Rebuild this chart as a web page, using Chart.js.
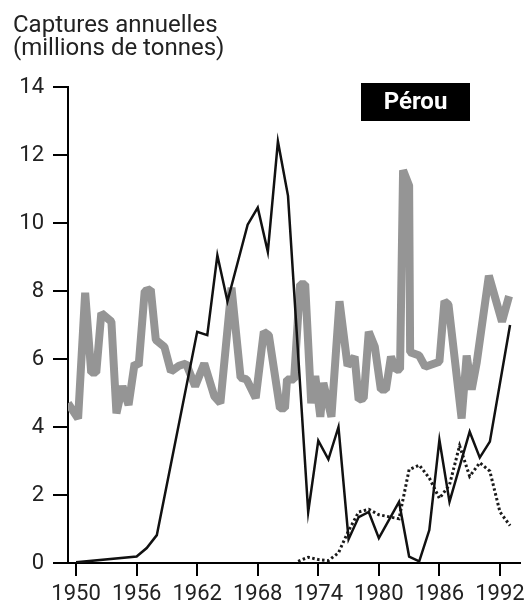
<!DOCTYPE html>
<html>
<head>
<meta charset="utf-8">
<script src="https://cdn.jsdelivr.net/npm/chart.js@4.4.1/dist/chart.umd.min.js"></script>
<style>
  body { margin: 0; background: #fff; }
</style>
</head>
<body>
<canvas id="myChart" width="530" height="604"></canvas>
<script>
const ctx = document.getElementById('myChart');

// captures annuelles, millions de tonnes (trait noir plein)
const catchYears = [1950, 1956, 1957, 1958, 1962, 1963, 1964, 1965, 1967, 1968, 1969, 1970, 1971,
    1973, 1974, 1975, 1976, 1977, 1978, 1979, 1980, 1982, 1983, 1984, 1985, 1986, 1987, 1989,
    1990, 1991, 1993];
const catchValues = [0.02, 0.19, 0.44, 0.82, 6.8, 6.7, 9.05, 7.7, 9.95, 10.45, 9.15, 12.4, 10.8,
    1.5, 3.6, 3.05, 4.0, 0.7, 1.35, 1.5, 0.73, 1.8, 0.19, 0.05, 0.97, 3.62, 1.8, 3.86,
    3.1, 3.57, 7.0];

// trait pointillé
const dottedYears = [1972, 1973, 1974, 1975, 1976, 1977, 1978, 1979, 1980, 1982, 1983, 1984,
    1985, 1986, 1987, 1988, 1989, 1990, 1991, 1992, 1993];
const dottedValues = [0.05, 0.17, 0.1, 0.07, 0.3, 0.95, 1.5, 1.58, 1.42, 1.3, 2.75, 2.88,
    2.5, 1.9, 2.3, 3.45, 2.55, 2.95, 2.7, 1.5, 1.1];

// trait gris épais
const grayYears = [1949.2, 1950.2, 1950.9, 1951.5, 1952.0, 1952.5, 1953.5, 1954.0, 1954.6, 1955.2,
    1955.8, 1956.2, 1956.8, 1957.4, 1957.9, 1958.75, 1959.4, 1960.2, 1960.9, 1961.8, 1962.7,
    1963.7, 1964.3, 1965.4, 1966.3, 1966.9, 1967.8, 1968.6, 1969.1, 1970.2, 1970.7, 1970.9,
    1971.6, 1972.2, 1972.7, 1973.3, 1973.7, 1974.2, 1974.5, 1975.3, 1976.1, 1976.9, 1977.6,
    1978.0, 1978.5, 1979.0, 1979.6, 1980.2, 1980.7, 1981.2, 1981.7, 1982.1, 1982.4, 1983.0,
    1983.1, 1984.0, 1984.6, 1986.0, 1986.5, 1986.9, 1988.2, 1988.7, 1989.2, 1989.7, 1990.9,
    1992.2, 1992.9];
const grayValues = [4.7, 4.25, 7.95, 5.6, 5.6, 7.35, 7.1, 4.4, 5.2, 4.65,
    5.87, 5.8, 8.0, 8.05, 6.56, 6.36, 5.63, 5.8, 5.87, 5.2, 5.87,
    4.9, 4.7, 8.1, 5.45, 5.4, 4.85, 6.8, 6.7, 4.55, 4.55, 5.4,
    5.4, 8.2, 8.2, 4.7, 5.5, 4.3, 5.3, 4.3, 7.7, 5.8, 6.07,
    4.8, 4.85, 6.8, 6.36, 5.1, 5.1, 6.07, 5.68, 5.7, 11.55, 11.1,
    6.2, 6.1, 5.77, 5.92, 7.7, 7.6, 4.25, 6.1, 5.1, 5.9, 8.45,
    7.1, 7.85];

const xTicks = [1950, 1956, 1962, 1968, 1974, 1980, 1986, 1992];
const yTicks = [0, 2, 4, 6, 8, 10, 12, 14];
const titleLines = ['Captures annuelles', '(millions de tonnes)'];
const countryLabel = 'Pérou';

const toPoints = (xs, ys) => xs.map((x, i) => ({ x: x, y: ys[i] }));

const headerLayer = {
    id: 'headerLayer',
    afterDraw: (chart) => {
        const { ctx } = chart;
        ctx.save();
        ctx.fillStyle = '#222';
        ctx.font = '24px Roboto';
        ctx.textAlign = 'left';
        ctx.textBaseline = 'alphabetic';
        ctx.fillText(titleLines[0], 13, 32);
        ctx.fillText(titleLines[1], 13, 55);

        ctx.fillStyle = '#000';
        ctx.fillRect(361, 83, 109, 38);
        ctx.fillStyle = '#fff';
        ctx.font = 'bold 24px Roboto';
        ctx.textAlign = 'center';
        ctx.textBaseline = 'middle';
        ctx.fillText(countryLabel, 415.5, 103);
        ctx.restore();
    }
};

const tickFont = { family: 'Roboto', size: 22 };

new Chart(ctx, {
    type: 'line',
    data: {
        datasets: [
            {
                data: toPoints(catchYears, catchValues),
                borderColor: '#111',
                borderWidth: 2.5,
                borderJoinStyle: 'miter',
                pointRadius: 0,
                tension: 0
            },
            {
                data: toPoints(dottedYears, dottedValues),
                borderColor: '#1a1a1a',
                borderWidth: 3,
                borderDash: [2.5, 2.5],
                pointRadius: 0,
                tension: 0
            },
            {
                data: toPoints(grayYears, grayValues),
                borderColor: '#959595',
                borderWidth: 8,
                borderJoinStyle: 'bevel',
                pointRadius: 0,
                tension: 0
            }
        ]
    },
    plugins: [headerLayer],
    options: {
        responsive: false,
        animation: false,
        layout: { padding: { top: 87, right: 7, left: 0, bottom: 0 } },
        plugins: {
            legend: { display: false },
            tooltip: { enabled: false }
        },
        scales: {
            x: {
                type: 'linear',
                min: 1949.2,
                max: 1994,
                afterBuildTicks: (scale) => { scale.ticks = xTicks.map(v => ({ value: v })); },
                afterFit: (scale) => { scale.height = 41; },
                ticks: {
                    callback: (v) => String(v),
                    font: tickFont,
                    color: '#222',
                    padding: 5,
                    maxRotation: 0,
                    autoSkip: false
                },
                grid: { drawOnChartArea: false, tickLength: 13, color: '#000', lineWidth: 2 },
                border: { color: '#000', width: 2 }
            },
            y: {
                min: 0,
                max: 14,
                afterBuildTicks: (scale) => { scale.ticks = yTicks.map(v => ({ value: v })); },
                afterFit: (scale) => { scale.width = 68; },
                ticks: {
                    font: tickFont,
                    color: '#222',
                    padding: 9
                },
                grid: { drawOnChartArea: false, tickLength: 15, color: '#000', lineWidth: 2 },
                border: { color: '#000', width: 2 }
            }
        }
    }
});
</script>
</body>
</html>
